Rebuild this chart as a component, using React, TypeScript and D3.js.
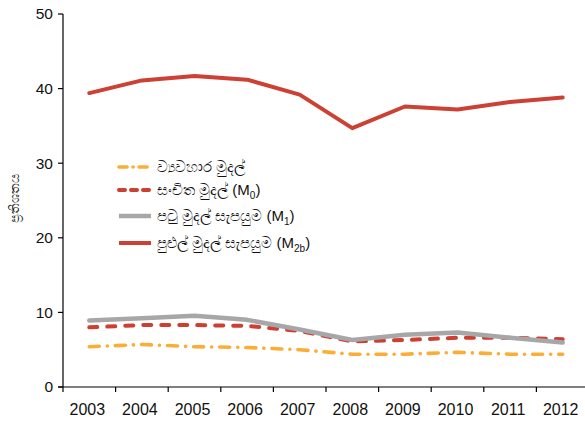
import React from "react";
import * as d3 from "d3";

const years = ["2003", "2004", "2005", "2006", "2007", "2008", "2009", "2010", "2011", "2012"];
const currency = [5.4, 5.7, 5.4, 5.3, 5.0, 4.4, 4.4, 4.65, 4.4, 4.4];
const reserveMoney = [8.0, 8.3, 8.3, 8.2, 7.5, 6.1, 6.3, 6.6, 6.6, 6.4];
const narrowMoney = [8.9, 9.2, 9.55, 9.0, 7.7, 6.3, 7.0, 7.3, 6.6, 5.95];
const broadMoney = [39.4, 41.1, 41.7, 41.2, 39.2, 34.7, 37.6, 37.2, 38.2, 38.8];
const yTicks = [0, 10, 20, 30, 40, 50];
const yLabel = "ප්‍රතිශතය";

const W = 585;
const H = 421;
const left = 63;
const band = 52.6;
const top = 14;
const bottom = 387;

const series = [
  { name: "ව්‍යවහාර මුදල්", sub: "", values: currency, color: "#FBAE35", width: 3.6, dash: "10 8 0.1 8", plain: true },
  { name: "සංචිත මුදල් (M", sub: "0", values: reserveMoney, color: "#CC3F31", width: 4, dash: "8 10", plain: false },
  { name: "පටු මුදල් සැපයුම (M", sub: "1", values: narrowMoney, color: "#A7A7AA", width: 4.5, dash: null, plain: false },
  { name: "පුළුල් මුදල් සැපයුම (M", sub: "2b", values: broadMoney, color: "#CC4133", width: 4, dash: null, plain: false },
];
const legendY = [167, 190, 216, 243];

export default function App() {
  const x = d3.scaleBand<string>().domain(years).range([left, left + band * years.length]);
  const y = d3.scaleLinear().domain([0, 50]).range([bottom, top]);
  const cx = (i: number) => (x(years[i]) as number) + x.bandwidth() / 2;
  const line = d3
    .line<number>()
    .x((_, i) => cx(i))
    .y((d) => y(d));
  const font = "'Liberation Sans', Arial, sans-serif";
  return (
    <svg width={W} height={H} style={{ position: "absolute", left: 0, top: 0, background: "#fff" }} fontFamily={font}>
      {/* axes */}
      <line x1={left} x2={left} y1={top} y2={bottom} stroke="#000" strokeWidth={1.2} />
      <line x1={left - 5} x2={W} y1={bottom} y2={bottom} stroke="#000" strokeWidth={1.2} />
      {yTicks.map((t) => (
        <g key={t}>
          <line x1={left - 5} x2={left} y1={y(t)} y2={y(t)} stroke="#000" strokeWidth={1.2} />
          <text x={left - 10} y={y(t)} dy="0.35em" textAnchor="end" fontSize={15.5} fill="#111">
            {t}
          </text>
        </g>
      ))}
      {years.map((yr, i) => (
        <g key={yr}>
          <line x1={x(yr)} x2={x(yr)} y1={bottom} y2={bottom + 5} stroke="#000" strokeWidth={1.2} />
          <text x={cx(i) - 2} y={415} textAnchor="middle" fontSize={16} fill="#111">
            {yr}
          </text>
        </g>
      ))}
      <text
        transform={`translate(19,${(top + bottom) / 2 - 2}) rotate(-90)`}
        textAnchor="middle"
        fontSize={13}
        fill="#222"
        fontFamily="'Noto Sans', sans-serif"
      >
        {yLabel}
      </text>
      {/* lines */}
      {series.map((s) => (
        <path
          key={s.name}
          d={line(s.values) || ""}
          fill="none"
          stroke={s.color}
          strokeWidth={s.width}
          strokeDasharray={s.dash || undefined}
          strokeLinecap="round"
          strokeLinejoin="round"
        />
      ))}
      {/* legend */}
      {series.map((s, i) => (
        <g key={"lg" + i}>
          <line
            x1={119}
            x2={151}
            y1={legendY[i]}
            y2={legendY[i]}
            stroke={s.color}
            strokeWidth={s.width}
            strokeDasharray={s.dash ? (s.plain ? "8 6 0.1 6" : "6 6") : undefined}
            strokeLinecap={s.dash ? "round" : "butt"}
          />
          <text x={157} y={legendY[i]} dy="0.35em" fontSize={15} fill="#111" fontFamily="'Liberation Sans', 'Noto Sans', sans-serif">
            {s.name}
            {s.sub ? (
              <>
                <tspan fontSize={10} dy={4}>{s.sub}</tspan>
                <tspan dy={-4}>)</tspan>
              </>
            ) : null}
          </text>
        </g>
      ))}
    </svg>
  );
}
